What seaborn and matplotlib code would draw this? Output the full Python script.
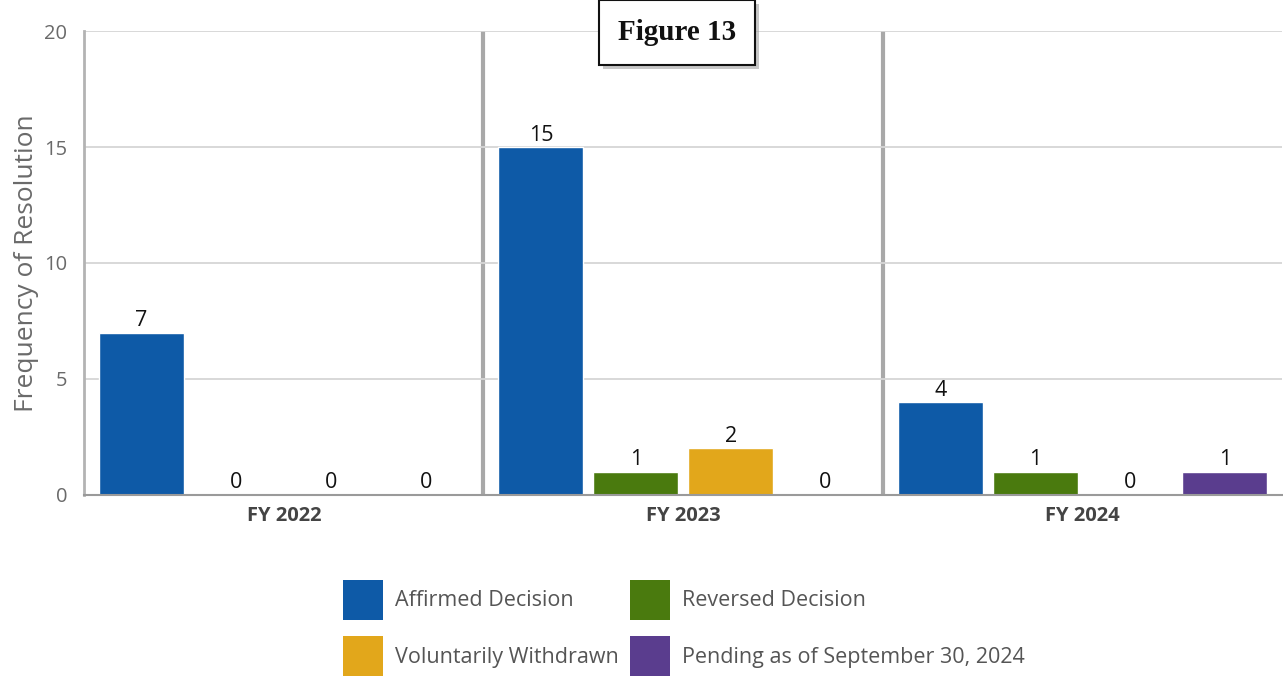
import matplotlib
matplotlib.use("Agg")
import matplotlib.pyplot as plt
import matplotlib.patheffects as pe
from matplotlib.patches import Patch
import seaborn as sns
import pandas as pd

years = ["FY 2022", "FY 2023", "FY 2024"]
outcomes = ["Affirmed Decision", "Reversed Decision",
            "Voluntarily Withdrawn", "Pending as of September 30, 2024"]
affirmed = [7, 15, 4]
reversed_ = [0, 1, 1]
withdrawn = [0, 2, 0]
pending = [0, 0, 1]
colors = ["#0E5AA7", "#4A7A0E", "#E2A71B", "#5A3D8E"]

rows = []
for series, vals in zip(outcomes, [affirmed, reversed_, withdrawn, pending]):
    for y, v in zip(years, vals):
        rows.append({"year": y, "outcome": series, "count": v})
df = pd.DataFrame(rows)

sns.set_theme(style="white")
plt.rcParams["font.family"] = ["Open Sans", "DejaVu Sans"]

fig = plt.figure(figsize=(12.83, 6.76), dpi=100)
ax = fig.add_axes([0.0655, 0.268, 0.934, 0.686])

sns.barplot(data=df, x="year", y="count", hue="outcome", order=years,
            hue_order=outcomes, palette=colors, saturation=1,
            width=0.95, gap=0.105, legend=False, ax=ax)

for cont in ax.containers:
    ax.bar_label(cont, fmt="%d", padding=1, fontsize=15.5, color="#111111")

ax.set_xlim(-0.5, 2.5)
ax.set_ylim(0, 20)
ax.set_yticks([0, 5, 10, 15, 20])
ax.yaxis.grid(True, color="#d6d6d6", lw=1.3)
ax.set_axisbelow(True)
for x in [0.5, 1.5]:
    ax.axvline(x, color="#a8a8a8", lw=3, zorder=0.5)

for s in ["top", "right"]:
    ax.spines[s].set_visible(False)
ax.spines["left"].set_color("#b3b3b3")
ax.spines["left"].set_linewidth(2)
ax.spines["bottom"].set_color("#9a9a9a")
ax.spines["bottom"].set_linewidth(1.5)

ax.tick_params(axis="y", length=0, pad=12, labelsize=14.5, labelcolor="#6a6a6a")
ax.tick_params(axis="x", length=0, pad=8, labelsize=14.5, labelcolor="#444444")
for lbl in ax.get_xticklabels():
    lbl.set_fontweight("bold")
ax.set_xlabel("")
ax.set_ylabel("Frequency of Resolution", fontsize=19, color="#6a6a6a", labelpad=4)

# row-major order in a two-column legend
order = [0, 2, 1, 3]
handles = [Patch(facecolor=colors[i], edgecolor="none") for i in order]
labels = [outcomes[i] for i in order]
fig.legend(handles, labels, loc="center", bbox_to_anchor=(0.533, 0.071),
           ncol=2, frameon=False, fontsize=15.5, labelcolor="#555555",
           handlelength=1.86, handleheight=2.48, handletextpad=0.55,
           labelspacing=0.76, columnspacing=0.55)

title = fig.text(0.5275, 0.9515, "Figure 13", ha="center", va="center",
                 fontsize=21, fontweight="bold", family="Liberation Serif",
                 color="#111111",
                 bbox=dict(boxstyle="square,pad=0.65", fc="white",
                           ec="#111111", lw=1.5))
title.get_bbox_patch().set_path_effects([
    pe.SimplePatchShadow(offset=(3, -3), shadow_rgbFace="#9a9a9a", alpha=0.55),
    pe.Normal()])

fig.savefig("out.png", dpi=100)
